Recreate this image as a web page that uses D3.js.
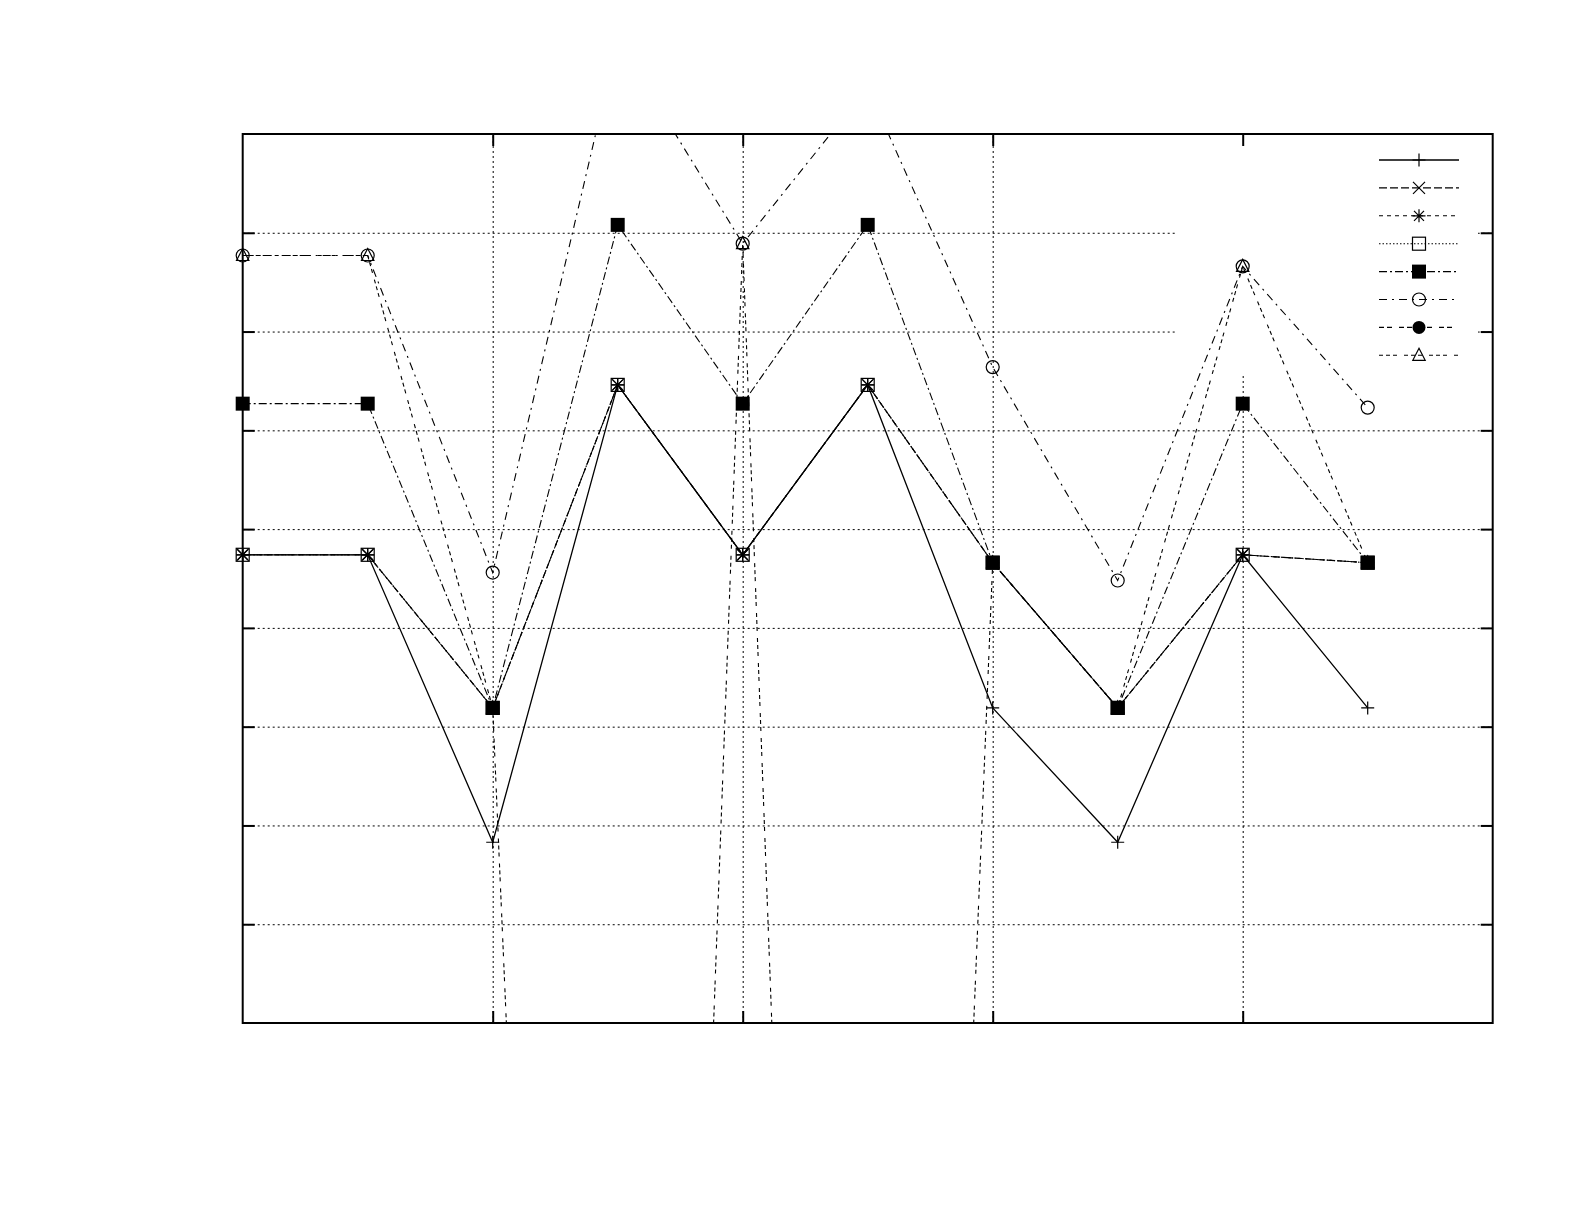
<!DOCTYPE html>
<html>
<head>
<meta charset="utf-8">
<script src="https://cdn.jsdelivr.net/npm/d3@7"></script>
<style>
  html, body { margin: 0; padding: 0; background: #fff; }
  svg { display: block; }
</style>
</head>
<body>
<script>
// ---- data ----
const xValues = [0, 1, 2, 3, 4, 5, 6, 7, 8, 9];
const xTicks  = [2, 4, 6, 8];
const yTicks  = [1, 2, 3, 4, 5, 6, 7, 8];

const s1 = [4.74, 4.74, 1.83, 6.46, 4.74, 6.46, 3.19, 1.83, 4.74, 3.19];   // solid, plus
const s2 = [4.74, 4.74, 3.19, 6.46, 4.74, 6.46, 4.66, 3.19, 4.74, 4.66];   // dashed, cross
const s3 = [4.74, 4.74, 3.19, 6.46, 4.74, 6.46, 4.66, 3.19, 4.74, 4.66];   // short dash, star
const s4 = [4.74, 4.74, 3.19, 6.46, 4.74, 6.46, 4.66, 3.19, 4.74, 4.66];   // dotted, open square
const s5 = [6.27, 6.27, 3.19, 8.08, 6.27, 8.08, 4.66, 3.19, 6.27, 4.66];   // dash-dot, filled square
const s6 = [7.77, 7.77, 4.56, 9.95, 7.89, 9.47, 6.64, 4.48, 7.66, 6.23];   // dash-dot, open circle
const s7 = [null, null, null, null, null, null, null, null, null, null];   // dashed, filled circle (no visible points)
const s8 = [7.77, 7.77, 3.19, -26, 7.89, -26, 4.66, 3.19, 7.66, 4.66];     // dashed, open triangle

const seriesValues = [s1, s2, s3, s4, s5, s6, s7, s8];
const seriesMarkers = ["plus", "cross", "star", "square", "fsquare", "circle", "fcircle", "triangle"];
const seriesDashes = ["", "8,3", "4,4", "1.5,2", "8,3,2,3", "8,5,2,5", "5,3,5,7", "4,3,4,3,4,7"];

// ---- layout ----
const W = 1585, H = 1225;
const L = 242.7, R = 1492.7, T = 134, B = 1023;

const svg = d3.select("body").append("svg")
  .attr("width", W).attr("height", H)
  .style("font-family", "DejaVu Sans, sans-serif");

const x = d3.scaleLinear().domain([0, 10]).range([L, R]);
const y = d3.scaleLinear().domain([0, 9]).range([B, T]);

svg.append("defs").append("clipPath").attr("id", "plotclip")
  .append("rect").attr("x", L).attr("y", T).attr("width", R - L).attr("height", B - T);

// grid
const gridY = svg.append("g").attr("transform", `translate(${L},0)`)
  .call(d3.axisLeft(y).tickValues(yTicks).tickSize(-(R - L)).tickFormat(""));
gridY.select(".domain").remove();
gridY.selectAll("line").attr("stroke", "#000").attr("stroke-width", 1).attr("stroke-dasharray", "2,3");

const gridX = svg.append("g").attr("transform", `translate(0,${B})`)
  .call(d3.axisBottom(x).tickValues(xTicks).tickSize(-(B - T)).tickFormat(""));
gridX.select(".domain").remove();
gridX.selectAll("line").attr("stroke", "#000").attr("stroke-width", 1).attr("stroke-dasharray", "2,3");

// opaque key box (hides the grid under it)
const keyLeft = 1176, keyRight = 1478, keyTop = 136, keyBottom = 375;
svg.append("rect").attr("x", keyLeft).attr("y", keyTop)
  .attr("width", keyRight - keyLeft).attr("height", keyBottom - keyTop).attr("fill", "#fff");

// tick marks (inward, mirrored)
function ticks(axisGen, tx, ty) {
  const g = svg.append("g").attr("transform", `translate(${tx},${ty})`).call(axisGen);
  g.select(".domain").remove();
  g.selectAll("line").attr("stroke", "#000").attr("stroke-width", 2);
}
ticks(d3.axisLeft(y).tickValues(yTicks).tickSize(-12).tickFormat(""), L, 0);
ticks(d3.axisRight(y).tickValues(yTicks).tickSize(-12).tickFormat(""), R, 0);
ticks(d3.axisBottom(x).tickValues(xTicks).tickSize(-12).tickFormat(""), 0, B);
ticks(d3.axisTop(x).tickValues(xTicks).tickSize(-12).tickFormat(""), 0, T);

// border
svg.append("rect").attr("x", L).attr("y", T).attr("width", R - L).attr("height", B - T)
  .attr("fill", "none").attr("stroke", "#000").attr("stroke-width", 2);

// markers
function drawMarker(g, type) {
  const sw = 1.2;
  switch (type) {
    case "plus":
      g.append("path").attr("d", "M-6.5,0H6.5M0,-6.5V6.5").attr("stroke", "#000").attr("stroke-width", sw).attr("fill", "none"); break;
    case "cross":
      g.append("path").attr("d", "M-6,-6L6,6M-6,6L6,-6").attr("stroke", "#000").attr("stroke-width", sw).attr("fill", "none"); break;
    case "star":
      g.append("path").attr("d", "M-6.5,0H6.5M0,-6.5V6.5M-5,-5L5,5M-5,5L5,-5").attr("stroke", "#000").attr("stroke-width", sw).attr("fill", "none"); break;
    case "square":
      g.append("rect").attr("x", -6.5).attr("y", -6.5).attr("width", 13).attr("height", 13).attr("stroke", "#000").attr("stroke-width", sw).attr("fill", "none"); break;
    case "fsquare":
      g.append("rect").attr("x", -7).attr("y", -7).attr("width", 14).attr("height", 14).attr("fill", "#000"); break;
    case "circle":
      g.append("circle").attr("r", 6.5).attr("stroke", "#000").attr("stroke-width", sw).attr("fill", "none"); break;
    case "fcircle":
      g.append("circle").attr("r", 6.5).attr("fill", "#000"); break;
    case "triangle":
      g.append("path").attr("d", "M0,-7L6.2,5L-6.2,5Z").attr("stroke", "#000").attr("stroke-width", sw).attr("fill", "none"); break;
  }
}

// data: lines clipped to the plot, points drawn unclipped (only in-range points)
const linesG = svg.append("g").attr("clip-path", "url(#plotclip)");
const pointsG = svg.append("g");
seriesValues.forEach((vals, i) => {
  const pts = xValues.map((xv, j) => ({ x: xv, y: vals[j] }));
  const line = d3.line().defined(d => d.y != null).x(d => x(d.x)).y(d => y(d.y));
  linesG.append("path").datum(pts).attr("d", line)
    .attr("fill", "none").attr("stroke", "#000")
    .attr("stroke-width", i === 0 ? 1.3 : 1.1)
    .attr("stroke-dasharray", seriesDashes[i] || null);
  pts.filter(d => d.y != null && d.y >= 0 && d.y <= 9).forEach(d => {
    const g = pointsG.append("g").attr("transform", `translate(${x(d.x)},${y(d.y)})`);
    drawMarker(g, seriesMarkers[i]);
  });
});

// key samples
const keyX1 = 1379, keyX2 = 1459, keyMX = 1419, keyY0 = 160, keyDY = 27.9;
seriesValues.forEach((vals, i) => {
  const yy = keyY0 + i * keyDY;
  svg.append("line").attr("x1", keyX1).attr("x2", keyX2).attr("y1", yy).attr("y2", yy)
    .attr("stroke", "#000").attr("stroke-width", i === 0 ? 1.3 : 1.1)
    .attr("stroke-dasharray", seriesDashes[i] || null);
  const g = svg.append("g").attr("transform", `translate(${keyMX},${yy})`);
  drawMarker(g, seriesMarkers[i]);
});
</script>
</body>
</html>
